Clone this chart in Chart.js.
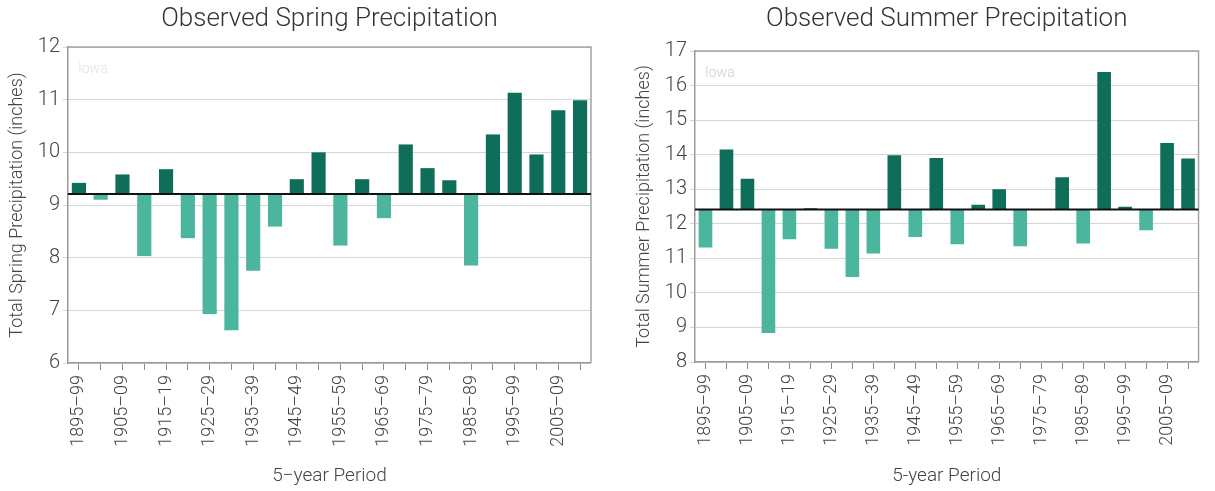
<!DOCTYPE html>
<html lang="en">
<head>
<meta charset="UTF-8" />
<title>Observed Spring and Summer Precipitation - Iowa</title>
<script src="https://cdn.jsdelivr.net/npm/chart.js"></script>
<style>
  body {
    margin: 0;
    background: #fff;
    width: 1215px;
    height: 491px;
    overflow: hidden;
    position: relative;
  }
  .panel {
    position: absolute;
    top: 0;
  }
  #springBox { left: 0; }
  #summerBox { left: 627px; }
</style>
</head>
<body>

<div class="panel" id="springBox"><canvas id="springChart" width="607" height="491"></canvas></div>
<div class="panel" id="summerBox"><canvas id="summerChart" width="588" height="491"></canvas></div>

<script>
  // 5-year periods, 1895-99 .. 2010-14
  const periods = ['1895–99', '1900–04', '1905–09', '1910–14', '1915–19', '1920–24',
    '1925–29', '1930–34', '1935–39', '1940–44', '1945–49', '1950–54',
    '1955–59', '1960–64', '1965–69', '1970–74', '1975–79', '1980–84',
    '1985–89', '1990–94', '1995–99', '2000–04', '2005–09', '2010–14'];

  // total precipitation (inches)
  const springValues = [9.42, 9.10, 9.58, 8.03, 9.68, 8.37, 6.93, 6.62, 7.75, 8.59, 9.49, 10.00,
    8.23, 9.49, 8.75, 10.15, 9.70, 9.47, 7.85, 10.34, 11.13, 9.96, 10.80, 10.99];
  const summerValues = [11.31, 14.15, 13.30, 8.84, 11.55, 12.45, 11.28, 10.46, 11.14, 13.98, 11.62, 13.90,
    11.41, 12.55, 13.00, 11.35, 12.41, 13.35, 11.43, 16.39, 12.49, 11.81, 14.34, 13.89];

  // long-term average lines
  const springMean = 9.21;
  const summerMean = 12.41;

  const springTicks = [6, 12];
  const summerTicks = [8, 17];

  const DARK = '#0f6e5a';
  const LIGHT = '#4bb59d';
  const FONT = 'Roboto, sans-serif';

  // draws the plot frame, the mean line and the faint state label
  const framePlugin = {
    id: 'frame',
    afterDatasetsDraw(chart, args, opts) {
      const { ctx, chartArea: a, scales } = chart;
      ctx.save();
      ctx.strokeStyle = '#a3a3a3';
      ctx.lineWidth = 1.5;
      ctx.beginPath();
      ctx.moveTo(a.left, a.top);
      ctx.lineTo(a.right, a.top);
      ctx.lineTo(a.right, a.bottom);
      ctx.stroke();

      const y = scales.y.getPixelForValue(opts.mean);
      ctx.strokeStyle = '#111';
      ctx.lineWidth = 2;
      ctx.beginPath();
      ctx.moveTo(a.left, y);
      ctx.lineTo(a.right, y);
      ctx.stroke();

      ctx.fillStyle = opts.labelColor;
      ctx.font = '300 14px ' + FONT;
      ctx.textBaseline = 'middle';
      ctx.fillText('Iowa', a.left + 10, a.top + 22);
      ctx.restore();
    }
  };

  function makeChart(id, cfg) {
    const data = cfg.values.map(v => [cfg.mean, v]);
    const colors = cfg.values.map(v => v >= cfg.mean ? DARK : LIGHT);

    return new Chart(document.getElementById(id), {
      type: 'bar',
      data: {
        labels: periods,
        datasets: [{
          data: data,
          backgroundColor: colors,
          borderWidth: 0,
          barPercentage: 0.65,
          categoryPercentage: 1
        }]
      },
      options: {
        responsive: false,
        animation: false,
        layout: { padding: { top: 0, right: cfg.padRight, bottom: 0, left: 0 } },
        plugins: {
          legend: { display: false },
          tooltip: { enabled: false },
          title: {
            display: true,
            text: cfg.title,
            fullSize: false,
            color: '#333',
            font: { family: FONT, size: 26, weight: 300, lineHeight: 1.2 },
            padding: { top: 4, bottom: cfg.titleBottom }
          },
          frame: { mean: cfg.mean, labelColor: cfg.labelColor }
        },
        scales: {
          x: {
            afterFit(scale) { scale.height = cfg.xHeight; },
            grid: {
              offset: false,
              drawOnChartArea: false,
              color: '#8a8a8a',
              tickLength: 7
            },
            border: { color: '#9a9a9a', width: 1.5 },
            ticks: {
              autoSkip: false,
              minRotation: 90,
              maxRotation: 90,
              padding: 5,
              color: '#444',
              font: { family: FONT, size: 18, weight: 300 },
              callback: (val, i) => i % 2 === 0 ? periods[i] : ''
            },
            title: {
              display: true,
              text: cfg.xTitle,
              color: '#444',
              font: { family: FONT, size: 19, weight: 300, lineHeight: 1.2 },
              padding: { top: 4, bottom: 3.6 }
            }
          },
          y: {
            min: cfg.ticks[0],
            max: cfg.ticks[1],
            afterFit(scale) { scale.width = 68; },
            grid: { color: '#d6d6d6', tickLength: 5 },
            border: { color: '#9a9a9a', width: 1.5 },
            ticks: {
              stepSize: 1,
              padding: 3,
              color: '#444',
              font: { family: FONT, size: 20, weight: 300 }
            },
            title: {
              display: true,
              text: cfg.yTitle,
              color: '#444',
              font: { family: FONT, size: 18, weight: 300, lineHeight: 1.2 },
              padding: { top: 7, bottom: 0 }
            }
          }
        }
      },
      plugins: [framePlugin]
    });
  }

  makeChart('springChart', {
    title: 'Observed Spring Precipitation',
    yTitle: 'Total Spring Precipitation (inches)',
    xTitle: '5−year Period',
    values: springValues,
    mean: springMean,
    ticks: springTicks,
    padRight: 12,
    titleBottom: 11.8,
    xHeight: 128,
    labelColor: '#e2e2e2'
  });

  makeChart('summerChart', {
    title: 'Observed Summer Precipitation',
    yTitle: 'Total Summer Precipitation (inches)',
    xTitle: '5-year Period',
    values: summerValues,
    mean: summerMean,
    ticks: summerTicks,
    padRight: 2,
    titleBottom: 15.8,
    xHeight: 129,
    labelColor: '#cfcfcf'
  });
</script>

</body>
</html>
